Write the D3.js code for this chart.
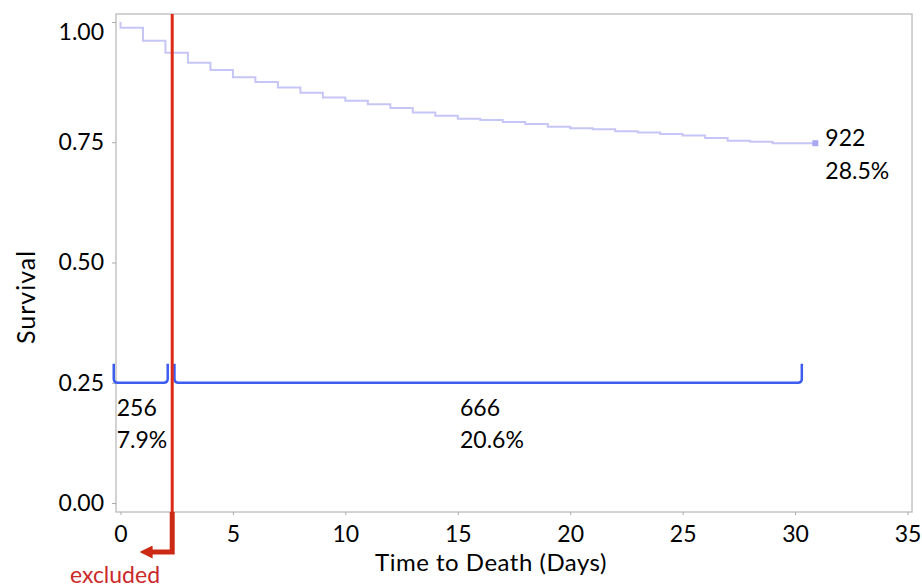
<!DOCTYPE html>
<html>
<head>
<meta charset="utf-8">
<script src="https://d3js.org/d3.v7.min.js"></script>
<style>
  body { margin: 0; background: #fff; }
  text { font-family: Lato, "Open Sans", sans-serif; }
</style>
</head>
<body>
<script>
//Width and height
var width = 922;
var height = 588;

// Kaplan-Meier steps (days, survival)
var kmDays = [0, 0, 1, 2, 3, 4, 5, 6, 7, 8, 9, 10, 11, 12, 13, 14, 15, 16, 17, 18, 19,
              20, 21, 22, 23, 24, 25, 26, 27, 28, 29, 30.9];
var kmSurvival = [1.000, 0.988, 0.961, 0.936, 0.915, 0.900, 0.885, 0.875, 0.864, 0.853, 0.843,
                  0.836, 0.829, 0.821, 0.812, 0.805, 0.799, 0.796, 0.792, 0.788, 0.782,
                  0.779, 0.777, 0.773, 0.770, 0.767, 0.764, 0.759, 0.753, 0.751, 0.748, 0.748];

// axis ticks
var xTicks = [0, 5, 10, 15, 20, 25, 30, 35];
var yTicks = [0, 0.25, 0.5, 0.75, 1];

// cut-off for excluded patients (days)
var cutoffDay = 2.3;

// brackets: start day, end day, count, share
var bracketStart = [-0.3, 2.4];
var bracketEnd = [2.1, 30.3];
var bracketCount = ["256", "666"];
var bracketShare = ["7.9%", "20.6%"];
var bracketLevel = 0.25;

// label at the end of the curve
var endCount = "922";
var endShare = "28.5%";

var frame = {left: 116, right: 912, top: 14, bottom: 512};
var fs = 23;

var x = d3.scaleLinear().domain([-0.2, 35.2]).range([frame.left, frame.right]);
var y = d3.scaleLinear().domain([-0.0187, 1.0166]).range([frame.bottom, frame.top]);

//Create SVG element
var svg = d3.select("body")
            .append("svg")
            .attr("width", width)
            .attr("height", height);

// red arrow head (tip at the end of the path)
svg.append("defs").append("marker")
    .attr("id", "arrow")
    .attr("viewBox", "0 0 10 10")
    .attr("refX", 2).attr("refY", 5)
    .attr("markerWidth", 2.6).attr("markerHeight", 2.6)
    .attr("orient", "auto")
    .append("path")
    .attr("d", "M0,0L10,5L0,10Z")
    .attr("fill", "#cc2a14");

// frame
svg.append("rect")
    .attr("x", frame.left).attr("y", frame.top)
    .attr("width", frame.right - frame.left)
    .attr("height", frame.bottom - frame.top)
    .attr("fill", "none")
    .attr("stroke", "#c4c4c4")
    .attr("stroke-width", 1.5);

// y axis (ticks outside, labels right aligned)
var yAxis = d3.axisLeft(y).tickValues(yTicks).tickFormat(d3.format(".2f")).tickSize(4).tickPadding(8);
var gy = svg.append("g").attr("transform", "translate(" + frame.left + ",0)").call(yAxis);
gy.select(".domain").remove();
gy.selectAll(".tick line").attr("stroke", "#aaa");
gy.selectAll(".tick text")
    .attr("font-size", fs)
    .attr("fill", "#000")
    .attr("dy", function(d){ return d === 1 ? "0.75em" : "0.32em"; });

// x axis
var xAxis = d3.axisBottom(x).tickValues(xTicks).tickSize(3).tickPadding(11);
var gx = svg.append("g").attr("transform", "translate(0," + frame.bottom + ")").call(xAxis);
gx.select(".domain").remove();
gx.selectAll(".tick line").attr("stroke", "#aaa");
gx.selectAll(".tick text").attr("font-size", fs).attr("fill", "#000");

// axis titles
svg.append("text")
    .attr("transform", "translate(35,297) rotate(-90)")
    .attr("text-anchor", "middle")
    .attr("font-size", 25)
    .attr("letter-spacing", 1)
    .attr("fill", "#000")
    .text("Survival");

svg.append("text")
    .attr("x", 491).attr("y", 571)
    .attr("text-anchor", "middle")
    .attr("font-size", 24)
    .attr("letter-spacing", 0.5)
    .attr("fill", "#000")
    .text("Time to Death (Days)");

// survival curve
var km = kmDays.map(function(d, i){ return [d, kmSurvival[i]]; });
var line = d3.line()
    .x(function(d){ return x(d[0]); })
    .y(function(d){ return y(d[1]); })
    .curve(d3.curveStepAfter);

svg.append("path")
    .datum(km)
    .attr("d", line)
    .attr("fill", "none")
    .attr("stroke", "#c6c6f6")
    .attr("stroke-width", 2);

var last = km[km.length - 1];
svg.append("rect")
    .attr("x", x(last[0]) - 3).attr("y", y(last[1]) - 3)
    .attr("width", 6).attr("height", 6)
    .attr("fill", "#a9a9f2");

svg.append("text")
    .attr("x", x(last[0]) + 10).attr("y", y(last[1]) + 3)
    .attr("font-size", fs).attr("fill", "#000")
    .text(endCount);
svg.append("text")
    .attr("x", x(last[0]) + 10).attr("y", y(last[1]) + 36)
    .attr("font-size", fs).attr("fill", "#000")
    .text(endShare);

// brackets
var hook = 19;
var rad = 4;
bracketStart.forEach(function(s, i){
    var x0 = x(s), x1 = x(bracketEnd[i]), yb = y(bracketLevel);
    var p = "M" + x0 + "," + (yb - hook) +
            "L" + x0 + "," + (yb - rad) +
            "Q" + x0 + "," + yb + " " + (x0 + rad) + "," + yb +
            "L" + (x1 - rad) + "," + yb +
            "Q" + x1 + "," + yb + " " + x1 + "," + (yb - rad) +
            "L" + x1 + "," + (yb - hook);
    svg.append("path")
        .attr("d", p)
        .attr("fill", "none")
        .attr("stroke", "#3d5cf0")
        .attr("stroke-width", 2.5);
});

// bracket labels
var labelX = [x(bracketStart[0]) + 3, 460];
bracketCount.forEach(function(c, i){
    svg.append("text")
        .attr("x", labelX[i]).attr("y", 416)
        .attr("font-size", fs).attr("fill", "#000")
        .text(c);
    svg.append("text")
        .attr("x", labelX[i]).attr("y", 448)
        .attr("font-size", fs).attr("fill", "#000")
        .text(bracketShare[i]);
});

// red cut-off line
var xc = x(cutoffDay);
svg.append("line")
    .attr("x1", xc).attr("x2", xc)
    .attr("y1", frame.top).attr("y2", frame.bottom)
    .attr("stroke", "#dd2a16")
    .attr("stroke-width", 3);

// thick elbow below the axis pointing left
svg.append("path")
    .attr("d", "M" + xc + "," + frame.bottom + "L" + xc + ",552L150,552")
    .attr("fill", "none")
    .attr("stroke", "#cc2a14")
    .attr("stroke-width", 5)
    .attr("marker-end", "url(#arrow)");

svg.append("text")
    .attr("x", 115).attr("y", 583)
    .attr("text-anchor", "middle")
    .attr("font-size", fs)
    .attr("fill", "#cc2a2a")
    .text("excluded");
</script>
</body>
</html>
